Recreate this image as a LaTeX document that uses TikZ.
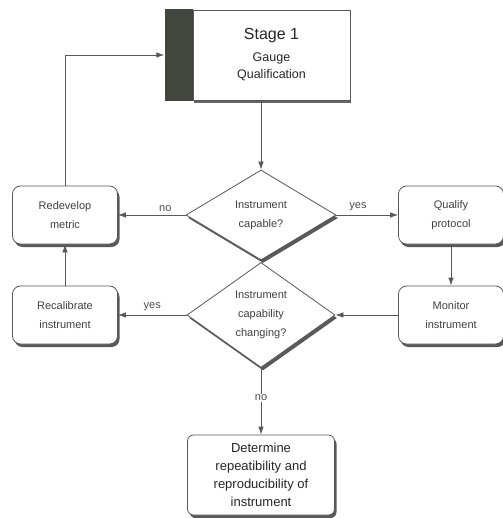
\documentclass[tikz,border=0pt]{standalone}
\usepackage{fontspec}
\setmainfont{Liberation Sans}
\usetikzlibrary{shapes.geometric,shadows,arrows.meta}
\definecolor{bardark}{RGB}{66,70,62}
\definecolor{linegray}{RGB}{88,88,88}

\begin{document}
\begin{tikzpicture}[x=1pt,y=-1pt,
  every node/.style={font=\fontsize{11}{19}\selectfont, text=black!75},
  boxshadow/.style={drop shadow={shadow xshift=2pt, shadow yshift=-3pt, fill=black!65, opacity=1}},
  box/.style={draw=linegray, fill=white, rounded corners=8pt, line width=0.8pt, align=center,
    minimum width=105pt, minimum height=58pt, inner sep=2pt, boxshadow},
  decision/.style={diamond, draw=linegray, fill=white, line width=0.8pt, align=center,
    aspect=1.5, inner sep=0pt, boxshadow},
  flow/.style={draw=linegray, line width=0.8pt, -{Latex[length=8pt,width=5.5pt]}},
  lbl/.style={font=\fontsize{11}{13}\selectfont, text=black!70}]

  \useasboundingbox (0,0) rectangle (502,518);

  % stage 1 header
  \node (bar) at (178.5,55) [fill=bardark, minimum width=28pt, minimum height=92pt, inner sep=0pt] {};
  \node (stage) at (271.5,55) [draw=linegray, fill=white, line width=0.5pt, minimum width=157pt,
    minimum height=90pt, align=center, text=black!85,
    drop shadow={shadow xshift=0.5pt, shadow yshift=-3.5pt, fill=black!60, opacity=1},
    font=\fontsize{12.5}{17}\selectfont]
    {{\fontsize{16}{18}\selectfont Stage 1}\\[5pt] Gauge\\ Qualification};

  % decisions
  \node (d1) at (261,215) [decision, minimum width=150pt, minimum height=90pt] {Instrument\\capable?};
  \node (d2) at (261,315) [decision, minimum width=148pt, minimum height=105pt] {Instrument\\capability\\changing?};

  % side boxes
  \foreach \name/\x/\y/\txt in {redev/65/215/Redevelop\\metric, recal/65/315/Recalibrate\\instrument,
      qualify/451/215/Qualify\\protocol, monitor/451/315/Monitor\\instrument} {
    \node (\name) at (\x,\y) [box] {\txt};
  }
  \node (determine) at (261,475) [box, minimum width=147pt, minimum height=80pt, rounded corners=6pt,
    font=\fontsize{13}{18}\selectfont, text=black!85]
    {Determine\\repeatibility and\\reproducibility of\\instrument};

  % connectors
  \draw[flow] (stage.south -| d1.north) -- (d1.north);
  \draw[flow] (d1.west) -- node[lbl, above, pos=0.3] {no} (redev.east);
  \draw[flow] (d1.east) -- node[lbl, above, pos=0.35] {yes} (qualify.west);
  \draw[flow] (qualify) -- (monitor);
  \draw[flow] (monitor.west) -- (d2.east);
  \draw[flow] (d2.west) -- node[lbl, above, pos=0.5] {yes} (recal.east);
  \draw[flow] (recal) -- (redev);
  \draw[flow] (redev.north) |- (bar.west);
  \draw[flow] (d2.south) -- node[lbl, fill=white, inner sep=1pt, pos=0.45] {no} (determine.north);
\end{tikzpicture}
\end{document}
